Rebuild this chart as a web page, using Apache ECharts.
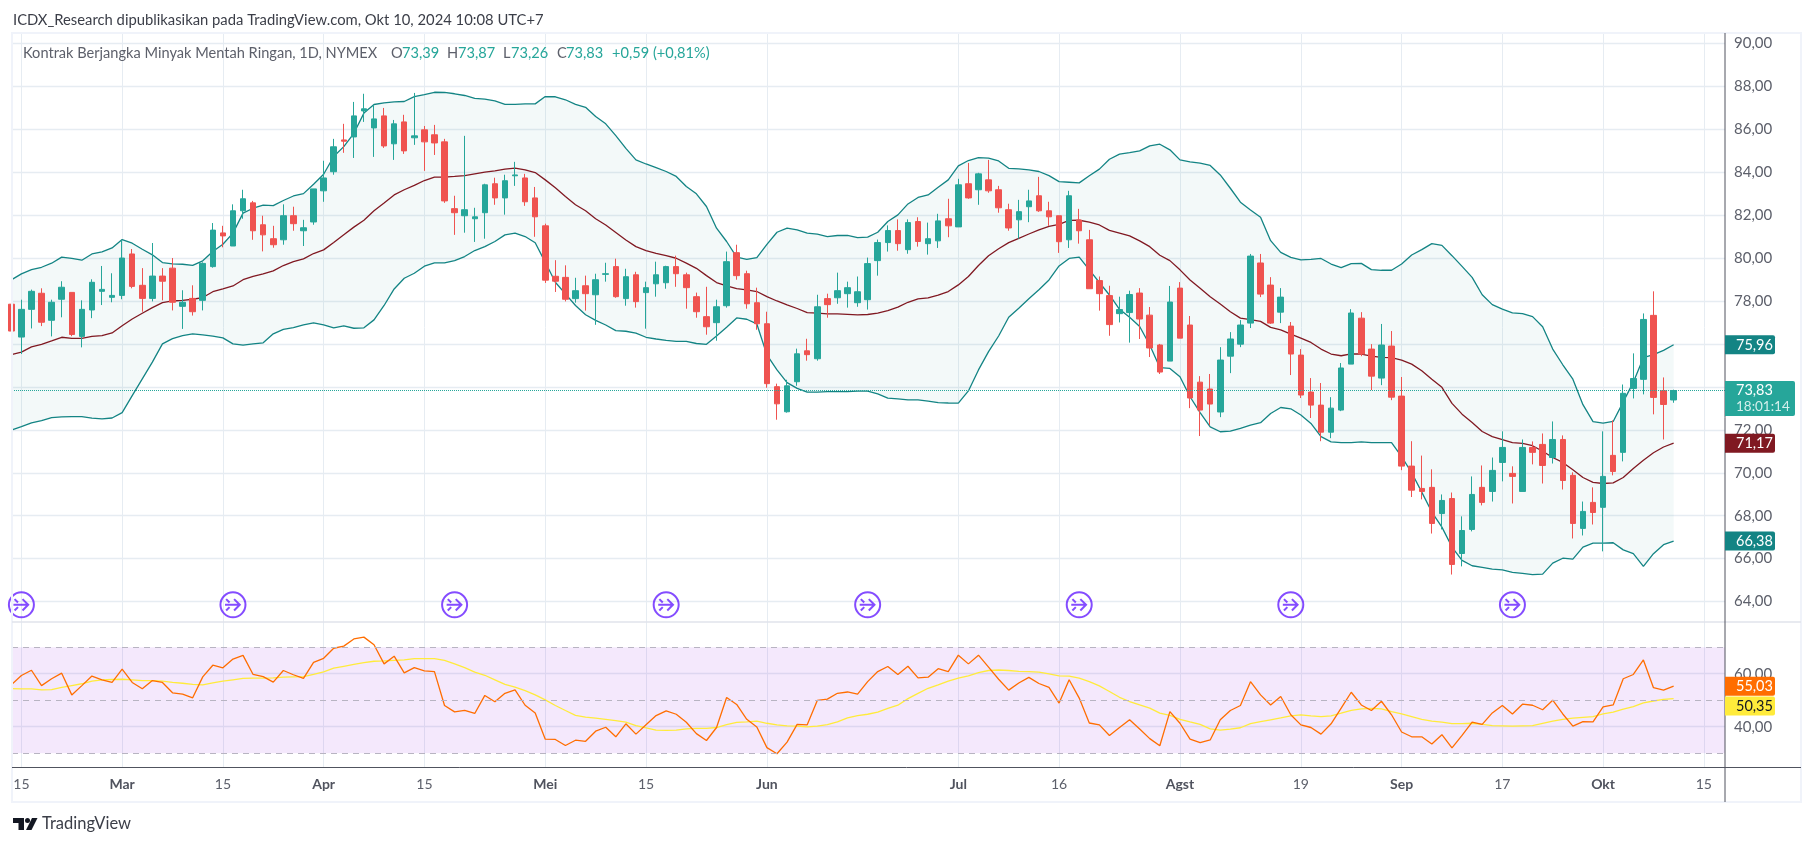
<!DOCTYPE html>
<html><head><meta charset="utf-8">
<style>html,body{margin:0;padding:0;background:#fff}#c{width:1814px;height:846px}</style>
<script src="https://cdn.jsdelivr.net/npm/echarts@6/dist/echarts.min.js"></script>
</head><body><div id="c"></div>
<script>
const opens=[77.85,76.32,77.61,78.36,77.1,78.08,78.4,76.35,77.58,78.45,
78.17,78.26,80.19,78.73,78.12,79.16,79.53,77.75,78.12,78.03,
79.6,81.17,80.56,82.2,82.57,81.55,80.9,80.85,81.97,81.27,
81.68,83.13,84.02,85.5,85.64,86.85,86.06,86.62,85.32,86.34,
85.6,85.97,85.74,85.41,82.3,81.97,81.83,82.11,83.46,82.8,
83.83,83.73,82.8,81.5,79.15,79.1,78.11,78.71,78.29,79.24,
79.6,78.11,79.22,78.39,78.8,78.85,79.6,79.22,78.2,77.27,
76.99,77.78,80.25,79.27,77.92,76.94,74.01,72.84,74.24,75.68,
75.31,78.11,78.15,78.34,77.92,78.06,79.88,80.72,81.28,80.39,
81.7,80.67,80.8,81.83,81.45,83.46,83.18,83.64,83.18,82.25,
81.78,82.39,82.9,82.2,81.97,80.85,81.77,80.85,78.95,78.25,
77.41,77.46,78.37,77.34,75.95,75.2,78.6,76.88,74.22,73.9,
72.83,75.43,75.99,76.97,79.77,78.74,77.48,76.83,75.48,73.76,
73.15,71.89,72.92,75.06,77.2,75.76,74.41,75.9,73.57,70.31,
69.27,69.32,68.1,68.8,66.24,67.36,69.32,69.13,70.48,69.97,
69.13,71.18,71.32,70.71,71.55,69.88,67.41,68.62,68.39,70.81,
70.95,73.93,74.35,77.33,73.82,73.39];
const closes=[76.6,77.61,78.45,77.01,77.94,78.64,76.44,77.61,78.87,78.54,
78.26,80,78.68,78.12,79.16,78.92,77.94,77.94,77.5,79.75,
81.3,81.03,82.2,82.76,81.27,81.08,80.62,81.97,81.6,81.41,
83.22,83.73,85.18,85.44,86.62,86.95,86.48,85.22,86.25,84.99,
85.69,85.41,85.36,82.66,82.11,82.25,81.92,83.41,82.8,83.6,
83.87,82.62,81.92,78.97,78.92,78.08,78.48,78.34,78.99,79.27,
78.2,79.13,77.97,78.62,79.22,79.6,79.27,78.62,77.5,76.8,
77.73,79.83,79.18,77.87,76.94,74.15,73.21,74.05,75.54,75.5,
77.73,77.83,78.48,78.62,78.43,79.74,80.72,81.28,80.67,81.65,
80.77,80.9,81.73,81.5,83.41,82.8,83.92,83.13,82.34,81.4,
82.16,82.66,82.2,81.92,80.76,82.9,81.27,78.57,78.34,76.9,
77.6,78.3,77.16,75.81,74.69,77.95,76.27,73.48,72.92,73.2,
75.25,76.23,76.88,80.09,78.32,76.97,78.18,75.53,73.62,73.15,
71.89,73.01,74.88,77.44,75.53,74.5,75.95,73.52,70.31,69.19,
69.13,67.64,68.71,65.73,67.31,68.99,68.62,70.11,71.18,69.83,
71.18,70.95,70.34,71.55,69.64,67.64,68.2,68.15,69.83,70.06,
73.7,74.39,77.14,73.51,73.18,73.83];
const highs=[77.85,78.06,78.53,78.59,78.06,78.92,78.4,78.03,79.01,79.63,
79.29,80.84,80.42,79.53,80.7,79.53,80,78.5,78.73,79.8,
81.63,81.5,82.5,83.18,82.66,81.97,81.5,82.5,82.39,81.78,
83.22,84.53,85.55,86.25,87.27,87.65,87.13,86.99,86.43,86.67,
87.69,86.15,86.2,85.55,82.9,85.69,82.34,83.46,83.74,83.88,
84.48,83.92,83.31,81.6,79.9,79.66,79.08,79.18,79.27,79.78,
79.97,79.5,79.36,78.9,79.83,79.64,80.11,79.32,78.39,78.66,
78.06,80.3,80.62,79.41,78.62,77.5,74.15,74.33,75.78,76.24,
78.29,78.34,79.32,78.9,79.14,80.02,80.86,81.52,81.8,81.8,
81.9,81.65,82.06,82.76,83.69,84.43,83.97,84.57,83.36,82.53,
82.71,83.18,83.78,82.62,81.97,83.13,82.29,81.31,79.14,78.71,
78.2,78.48,78.6,77.72,76,78.7,78.88,77.3,74.5,74.6,
75.85,76.55,77.11,80.19,80.19,79.11,78.6,77.02,75.76,74.41,
74.18,73.52,75.11,77.62,77.48,75.99,76.93,76.6,74.46,71.47,
70.8,70.16,68.99,69.08,67.97,69.83,70.34,70.71,71.93,70.3,
71.55,71.46,71.83,72.39,71.74,70.02,68.66,69.32,71.93,72.44,
74.11,75.56,77.42,78.45,74.44,73.87];
const lows=[76.6,75.53,76.72,76.83,76.35,77.24,76.36,75.84,77.2,77.81,
77.94,78.08,78.59,77.5,77.98,78.03,77.56,76.7,77.32,77.56,
79.55,80.5,80.56,81.83,80.85,80.31,80.48,80.62,81.27,80.56,
81.55,82.62,83.88,84.9,84.66,86.34,84.71,85.13,84.57,84.85,
85.27,84.06,84.8,82.57,81.08,81.18,80.75,80.9,82.48,82.02,
83.36,82.43,80.99,78.84,78.42,77.98,77.92,77.55,76.89,78.9,
78.15,77.78,77.69,76.71,78.2,78.57,78.66,77.64,77.22,76.43,
76.15,77.69,78.99,77.64,76.66,73.96,72.47,72.8,74.05,75.22,
75.22,77.22,77.87,77.69,77.73,77.6,79.18,80.3,80.34,80.2,
80.53,80.16,80.47,80.97,81.45,82.76,82.48,83.04,82.11,81.27,
80.9,81.67,82.15,81.5,80.24,80.47,80.67,78.57,77.55,76.38,
77,76.06,76.23,75.39,74.6,75.2,76.27,73.01,71.71,72.22,
72.59,74.64,75.85,76.74,78.18,76.93,76.97,74.55,73.48,72.55,
71.47,71.61,72.87,75.06,75.43,73.85,74.08,73.38,70.12,68.87,
68.76,67.17,67.36,65.26,65.64,67.27,68.48,68.66,69.6,68.57,
69.13,70.39,69.5,70.43,69.22,66.94,67.08,67.59,66.34,69.88,
70.53,73.46,73.65,72.72,71.55,73.26];
const upperBand=[78.98,79.26,79.46,79.57,79.76,80.04,79.98,79.9,80.19,80.29,80.47,80.86,80.69,80.41,80.15,79.79,79.73,79.71,79.66,79.87,80.3,80.64,81.16,82.09,82.32,82.46,82.44,82.68,82.89,
83,83.44,83.9,84.73,85.19,85.81,86.75,87.15,87.23,87.27,87.29,87.52,87.61,87.72,87.71,87.65,87.57,87.44,87.4,87.32,87.16,87.16,87.18,87.18,87.52,87.51,87.37,87.16,
87.02,86.59,
86.25,85.7,85.11,84.57,84.38,84.21,84.03,83.8,83.33,82.99,82.4,81.39,80.77,80.04,79.94,80.02,80.64,81.2,81.39,81.31,81.16,81.11,81,81.05,81.05,80.95,80.97,81.2,81.7,82.01,82.52,82.82,82.94,83.3,83.64,84.29,84.54,84.68,84.65,84.52,84.18,84.15,84.11,84.03,83.84,83.56,83.53,83.5,83.83,84.14,84.6,84.84,84.91,84.99,85.22,85.3,85.04,84.57,84.48,84.42,84.31,
83.87,83.25,82.6,82.24,81.9,80.81,80.26,80.03,79.91,79.94,79.98,79.72,79.55,79.74,79.75,79.46,79.43,79.43,79.72,80.14,80.39,80.67,80.59,80.11,79.61,79.1,78.29,77.83,77.62,77.45,77.41,77.27,76.8,75.76,75.03,74.36,73.17,72.38,72.31,72.39,73.3,74.22,75.36,75.5,75.7,75.96];
const middleBand=[75.5,75.62,75.86,75.98,76.14,76.31,76.26,76.26,76.35,76.39,76.51,76.85,77.16,77.43,77.69,77.92,78,78.03,78.08,78.16,78.43,78.56,78.7,78.99,79.15,79.26,79.4,79.65,79.83,
79.96,80.21,80.38,80.72,81.08,81.44,81.76,82.2,82.56,82.94,83.18,83.38,83.61,83.77,83.77,83.8,83.84,83.92,84,84.06,84.14,84.19,84.11,83.98,83.64,83.27,82.87,82.48,
82.2,81.83,
81.54,81.19,80.84,80.53,80.35,80.22,80.11,79.99,79.76,79.52,79.18,78.86,78.7,78.58,78.52,78.44,78.2,78,77.82,77.65,77.46,77.43,77.4,77.4,77.38,77.35,77.37,77.43,77.55,77.71,77.94,78.1,78.14,78.27,78.44,78.75,79.14,79.65,80.11,80.43,80.72,80.92,81.12,81.31,81.47,81.57,81.75,81.76,81.67,81.54,81.29,81.16,81.03,80.8,80.53,80.13,79.88,79.45,78.98,78.59,78.2,77.86,
77.5,77.2,77.13,77.05,76.77,76.65,76.46,76.27,76.07,75.76,75.53,75.45,75.54,75.53,75.43,75.37,75.36,75.25,75.06,74.75,74.36,73.98,73.23,72.73,72.34,71.92,71.68,71.54,71.4,71.37,71.26,71,70.71,70.48,70.14,69.78,69.55,69.5,69.53,69.78,70.2,70.58,70.93,71.2,71.38];
const lowerBand=[71.99,72.15,72.32,72.43,72.57,72.6,72.61,72.61,72.54,72.51,72.55,72.8,73.59,74.37,75.15,76,76.25,76.39,76.47,76.42,76.36,76.28,76,75.94,76,76.05,76.47,76.68,76.76,
76.89,76.98,76.89,76.75,76.84,76.73,76.75,77.12,77.79,78.56,79.06,79.29,79.62,79.77,79.77,79.88,80.07,80.35,80.53,80.77,81.08,81.16,81,80.71,79.8,78.87,78.33,77.79,
77.36,77.1,
76.88,76.62,76.59,76.5,76.31,76.23,76.17,76.12,76.12,76.02,75.98,76.37,76.78,77.21,77.15,76.93,75.49,74.79,74.2,73.93,73.76,73.76,73.78,73.78,73.78,73.8,73.8,73.67,73.48,73.44,73.39,73.39,73.34,73.27,73.25,73.24,73.81,74.79,75.64,76.37,77.24,77.66,78.1,78.52,78.98,79.63,79.98,80.04,79.45,78.86,78.28,77.61,77.24,76.81,75.95,74.9,
74.86,74.47,73.54,72.8,72.14,71.91,71.94,72.07,72.22,72.33,72.76,73.04,72.98,72.69,72.3,71.68,71.44,71.4,71.4,71.44,71.4,71.4,71.4,70.75,
70,69.1,68.17,67.47,66.54,65.92,65.67,65.59,65.51,65.48,65.36,65.31,65.26,65.28,65.79,66.02,65.98,66.54,66.72,66.72,66.74,66.41,66.23,65.64,66.23,66.65,66.82];
const rsi=[55.8,59.3,61.3,55.5,58.1,60.2,52,55.5,59.1,57.7,56.7,61.7,56.7,54.3,57.4,56.7,52.8,52.3,50.9,58.8,63.2,62.2,65.5,66.9,59.7,58.9,56.8,61.2,59.6,58.2,64.3,65.8,69.6,70.4,73.1,73.8,70.9,63.7,66.6,60.3,62.3,61.1,60.8,48,45.6,46.2,45,51.8,49.4,52.6,53.9,48.1,45.2,35.3,35.2,32.9,34.9,34.5,38.3,39.8,36.2,
41.1,37.2,40.7,44.2,46,44.7,41.7,37.4,34.8,39.7,51,48.4,42.8,39.9,32.1,29.8,34.2,40.9,40.7,49.9,50.4,52.6,53.1,52.3,57,60.8,62.7,59.7,62.8,58.4,58.7,61.9,60.8,67,63.7,67,62.5,57.9,53.8,56.5,58.6,56.3,54.8,48.9,57.7,50.8,41.4,40.7,36.7,39.7,42.6,39.1,35.5,32.8,45.7,41.3,35.3,34,35,
42.6,46.1,48,57,52,48.2,51.4,44.5,40.7,39.7,37.2,41.1,47,53,48.2,46.1,49.6,44.5,38,36.2,36.2,33.5,37,32,36.7,41.7,40.9,45.2,48,44.8,48.5,48.1,46.4,50,44.8,40.2,41.9,41.8,47.5,48.2,58.1,59.7,65.2,54.7,53.8,55.3];
const rsiMa=[54.4,54.3,54.3,53.9,54,54.8,55.5,56.2,57.2,57.7,57.8,57.9,57.7,57.4,57.4,57.2,56.7,56.4,56,55.8,56.5,57.2,57.7,58.2,58.3,58.3,58.4,58.7,58.8,58.9,59.7,60.7,62.1,62.8,63.5,64.2,64.7,64.8,65,65.2,65.7,65.7,65.7,65,63.7,62.3,60.6,59.4,57.7,56,54.9,53.6,52,50.1,48,46.1,44.3,43.6,43.2,42.8,42.3,
41.7,40.4,39.6,38.7,38.6,38.7,39.2,39.4,39.4,39.7,40.8,41.6,41.8,42.1,41.3,40.7,40.3,40.2,39.9,40.2,40.8,41.8,43.3,44.2,44.7,45.5,46.9,48.1,50.6,52.6,54.5,55.8,57.2,58.3,59.2,60.4,61.2,61.4,61.2,60.9,60.8,60.6,59.9,59.2,59.1,58.3,57,55.4,53.3,51.1,49.5,48.2,47,45.1,44.3,42.8,41.8,40.9,39.2,
38.7,39.1,39.6,41.2,41.9,42.6,43.3,44.1,44.5,44.1,43.8,44.1,45.1,46.2,46.7,46.9,46.7,45.7,44.8,43.8,42.8,42.1,41.7,41.2,41.2,41.3,40.9,40.4,40.3,40.2,40.3,40.4,41.3,42.1,42.8,43.2,43.5,43.8,44.8,45.5,46.6,47.6,49,49.7,50.3,50.6];
const timeTickBars=[1,11,21,31,41,53,63,75,94,104,116,128,138,148,158,168];
const timeTickLabels=['15','Mar','15','Apr','15','Mei','15','Jun','Jul','16','Agst','19','Sep','17','Okt','15'];
const boldTickLabels=['Mar','Apr','Mei','Jun','Jul','Agst','Sep','Okt'];
const priceTicks=[64,66,68,70,72,74,76,78,80,82,84,86,88,90];
const rsiTicks=[40,60];
const rsiLevels=[70,50,30];
const eventBars=[1,22,44,65,85,106,127,149];
const lastPrice=73.83;

const BODY='Lato, "Noto Sans", sans-serif';
const UP='#26a69a',DOWN='#ef5350',BAND='#138484',MID='#801922',GRID='#e6ecf2';
const idx=opens.map((_,i)=>i);
const pts=a=>a.map((v,i)=>[i,v]);
const fmt=v=>v.toFixed(2).replace('.',',');
const arrow='path://M12 1a11 11 0 1 0 .01 0zM5 12H18M13 7l5 5-5 5M6 7l3 3M6 17l3-3';

const xBase={type:'value',min:0.067,max:170.1,
  axisLine:{show:false},axisTick:{show:false,customValues:timeTickBars},
  splitLine:{show:true,customValues:timeTickBars,lineStyle:{color:GRID,width:1}}};
const chart=echarts.init(document.getElementById('c'),null,{renderer:'canvas'});
chart.setOption({
 animation:false,backgroundColor:'#ffffff',
 grid:[{left:12,top:33,width:1713,height:589},{left:12,top:622,width:1713,height:145}],
 xAxis:[
  Object.assign({},xBase,{gridIndex:0,axisLabel:{show:false}}),
  Object.assign({},xBase,{gridIndex:1,axisLabel:{show:true,customValues:timeTickBars,margin:10,hideOverlap:false,
    formatter:v=>{const t=timeTickLabels[timeTickBars.indexOf(v)];return boldTickLabels.includes(t)?'{b|'+t+'}':t;},
    fontFamily:BODY,fontSize:14,color:'#5d606b',
    rich:{b:{fontFamily:BODY,fontSize:14,fontWeight:'bold',color:'#50535e'}}}})
 ],
 yAxis:[
  {type:'value',gridIndex:0,position:'right',min:63.05,max:90.48,
   axisLine:{show:false},axisTick:{show:false,customValues:priceTicks},
   axisLabel:{customValues:priceTicks,margin:9,formatter:fmt,fontFamily:BODY,fontSize:15,color:'#5d606b'},
   splitLine:{show:true,customValues:priceTicks,lineStyle:{color:GRID,width:1.3}}},
  {type:'value',gridIndex:1,position:'right',min:24.8,max:79.5,
   axisLine:{show:false},axisTick:{show:false,customValues:rsiTicks},
   axisLabel:{customValues:rsiTicks,margin:9,formatter:fmt,fontFamily:BODY,fontSize:15,color:'#5d606b'},
   splitLine:{show:true,customValues:rsiTicks,lineStyle:{color:GRID,width:1.3}}}
 ],
 series:[
  {name:'bandFill',type:'custom',xAxisIndex:0,yAxisIndex:0,clip:true,z:2,silent:true,
   data:idx.map(i=>[i,upperBand[i],lowerBand[i]]),encode:{x:0,y:[1,2]},
   renderItem:(p,api)=>{
     if(p.dataIndex!==0) return null;
     const top=idx.map(i=>api.coord([i,upperBand[i]]));
     const bot=idx.map(i=>api.coord([i,lowerBand[i]])).reverse();
     return {type:'polygon',shape:{points:top.concat(bot)},style:{fill:'rgba(19,132,132,0.05)'}};
   }},
  {name:'upper',type:'line',xAxisIndex:0,yAxisIndex:0,data:pts(upperBand),showSymbol:false,lineStyle:{color:BAND,width:1.3},z:3},
  {name:'lower',type:'line',xAxisIndex:0,yAxisIndex:0,data:pts(lowerBand),showSymbol:false,lineStyle:{color:BAND,width:1.3},z:3},
  {name:'middle',type:'line',xAxisIndex:0,yAxisIndex:0,data:pts(middleBand),showSymbol:false,lineStyle:{color:MID,width:1.3},z:3},
  {name:'price',type:'candlestick',xAxisIndex:0,yAxisIndex:0,barWidth:6,clip:true,z:4,
   encode:{x:0,y:[1,2,3,4]},
   data:idx.map(i=>[i,opens[i],closes[i],lows[i],highs[i]]),
   itemStyle:{color:UP,color0:DOWN,borderColor:UP,borderColor0:DOWN,borderWidth:1},
   markLine:{silent:true,symbol:'none',label:{show:false},lineStyle:{color:UP,type:'dotted',width:1},data:[{yAxis:lastPrice}]}},
  {name:'events',type:'scatter',xAxisIndex:0,yAxisIndex:0,clip:true,z:5,
   data:eventBars.map(b=>[b,63.85]),symbol:arrow,symbolSize:25,
   itemStyle:{color:'rgba(255,255,255,0)',borderColor:'#651fff',borderWidth:2}},
  {name:'rsi',type:'line',xAxisIndex:1,yAxisIndex:1,data:pts(rsi),showSymbol:false,lineStyle:{color:'#ff6d00',width:1.3},z:4,
   markArea:{silent:true,itemStyle:{color:'rgba(135,5,225,0.09)'},data:[[{yAxis:rsiLevels[0]},{yAxis:rsiLevels[2]}]]},
   markLine:{silent:true,symbol:'none',label:{show:false},lineStyle:{color:'#b8b4c2',type:[6,5],width:1},data:rsiLevels.map(v=>({yAxis:v}))}},
  {name:'rsiMa',type:'line',xAxisIndex:1,yAxisIndex:1,data:pts(rsiMa),showSymbol:false,lineStyle:{color:'#ffeb3b',width:1.3},z:3}
 ]
});

/* frame, header, tags */
const g=[];
const T=(text,x,y,o={})=>g.push({type:'text',x,y,z:o.z||30,silent:true,style:{text,fill:o.c||'#50535e',font:(o.w||'normal')+' '+(o.s||14.8)+'px '+BODY,textVerticalAlign:'middle',textAlign:'left'}});
const L=(x1,y1,x2,y2,c,w)=>g.push({type:'line',z:20,silent:true,shape:{x1,y1,x2,y2},style:{stroke:c,lineWidth:w}});
g.push({type:'rect',z:19,silent:true,shape:{x:12,y:33,width:1789,height:769},style:{fill:'none',stroke:'#f0f3fa',lineWidth:2}});
L(12,622,1801,622,'#e0e3eb',1.5);
L(12,767.5,1801,767.5,'#50535e',1);
L(1725,33,1725,802,'#50535e',1);
T('ICDX_Research dipublikasikan pada TradingView.com, Okt 10, 2024 10:08 UTC+7',13,20,{c:'#3b3e48'});
const legendTexts=[['Kontrak Berjangka Minyak Mentah Ringan, 1D, NYMEX',23,'#5d606b'],['O',391,'#5d606b'],['73,39',402,UP],['H',447,'#5d606b'],['73,87',458,UP],['L',503,'#5d606b'],['73,26',511,UP],['C',557,'#5d606b'],['73,83',566,UP],['+0,59 (+0,81%)',612,UP]];
legendTexts.forEach(s=>T(s[0],s[1],53,{c:s[2],s:14.6}));
T('TradingView',42,824,{c:'#3b3e48',s:16.5});
g.push({type:'polygon',z:30,silent:true,shape:{points:[[13,818],[24,818],[24,830],[18.5,830],[18.5,823],[13,823]]},style:{fill:'#131722'}});
g.push({type:'circle',z:30,silent:true,shape:{cx:27.5,cy:820.5,r:2.5},style:{fill:'#131722'}});
g.push({type:'polygon',z:30,silent:true,shape:{points:[[32,818],[37.5,818],[31.5,830],[26,830]]},style:{fill:'#131722'}});
const Y0=v=>chart.convertToPixel({yAxisIndex:0},v), Y1=v=>chart.convertToPixel({yAxisIndex:1},v);
const tag=(y,text,bg,fg,w=50)=>{g.push({type:'rect',z:25,silent:true,shape:{x:1725,y:y-9.5,width:w,height:19,r:[0,2,2,0]},style:{fill:bg}});T(text,1736,y+.5,{c:fg,z:26,s:14.5});};
tag(Y0(upperBand[165]),'75,96',BAND,'#fff');
tag(Y0(middleBand[165]),'71,17',MID,'#fff');
tag(Y0(lowerBand[165]),'66,38',BAND,'#fff');
tag(Y1(rsi[165]),'55,03','#ff6d00','#fff');
tag(Y1(rsiMa[165])+7.5,'50,35','#ffeb3b','#131722');
const py=Y0(lastPrice);
g.push({type:'rect',z:25,silent:true,shape:{x:1725,y:py-9.5,width:70,height:35,r:[0,2,2,0]},style:{fill:UP}});
T('73,83',1736,py,{c:'#fff',z:26,s:14.5});
T('18:01:14',1736,py+16,{c:'#d4efec',z:26,s:13.5});
chart.setOption({graphic:{elements:g}});
</script></body></html>
